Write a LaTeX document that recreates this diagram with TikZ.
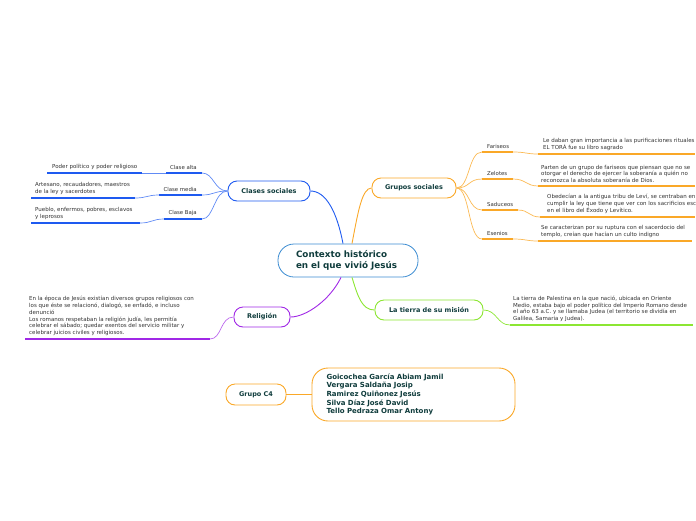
\documentclass[tikz,border=0pt]{standalone}
\usepackage{fontspec}
\setmainfont{DejaVu Sans}
\definecolor{cblue}{RGB}{30,90,240}
\definecolor{corange}{RGB}{250,168,40}
\definecolor{cpurple}{RGB}{160,40,230}
\definecolor{cgreen}{RGB}{140,230,50}
\definecolor{ccenter}{RGB}{60,140,210}
\definecolor{ctext}{RGB}{15,60,60}
\definecolor{cgray}{RGB}{50,50,50}
\begin{document}
\begin{tikzpicture}[x=1pt,y=-1pt,
  topic/.style={draw, fill=white, rounded corners=9pt, line width=0.9pt, minimum height=20pt, text=ctext, font=\bfseries\fontsize{6.5}{7.5}\selectfont},
  sub/.style={inner sep=0pt, text=cgray, font=\fontsize{5.4}{6.5}\selectfont},
  leaf/.style={inner sep=0pt, align=left, text=cgray, font=\fontsize{5.5}{6.8}\selectfont},
  uline/.style={line width=1.4pt},
  conn/.style={line width=0.7pt}]
\useasboundingbox (0,0) rectangle (696,520);

% central
\node[draw=ccenter, fill=white, rounded corners=16pt, line width=0.8pt, minimum width=140pt, minimum height=33pt, align=left, text width=104pt, text=ctext, font=\bfseries\fontsize{8.8}{10.5}\selectfont] (c) at (348,260.5) {Contexto histórico\\en el que vivió Jesús};

% main topics
\node[topic, draw=cblue, minimum width=82pt] (cs) at (269,191) {Clases sociales};
\node[topic, draw=corange, minimum width=84pt] (gs) at (414,188) {Grupos sociales};
\node[topic, draw=cpurple, minimum width=56pt] (rel) at (262,317) {Religión};
\node[topic, draw=cgreen, minimum width=108pt] (ti) at (429,310) {La tierra de su misión};
\node[topic, draw=corange, minimum width=60pt, minimum height=21pt] (g4) at (256,394.5) {Grupo C4};
\node[draw=corange, fill=white, rounded corners=16pt, line width=0.9pt, minimum width=203pt, minimum height=53pt, align=left, text=ctext, font=\bfseries\fontsize{7}{8.6}\selectfont, text width=174pt] (names) at (413.5,394.5) {Goicochea García Abiam Jamil\\Vergara Saldaña Josip\\Ramirez Quiñonez Jesús\\Silva Díaz José David\\Tello Pedraza Omar Antony};

% main connectors
\draw[conn, cblue, line width=0.9pt] ([xshift=-5pt]c.north) .. controls (337,212) and (326,191) .. (cs.east);
\draw[conn, corange, line width=0.9pt] ([xshift=4pt]c.north) .. controls (358,212) and (362,188) .. (gs.west);
\draw[conn, cpurple, line width=0.9pt] ([xshift=-7pt]c.south) .. controls (330,300) and (306,317) .. (rel.east);
\draw[conn, cgreen, line width=0.9pt] ([xshift=4pt]c.south) .. controls (358,297) and (362,310) .. (ti.west);
\draw[conn, corange, line width=0.9pt] (g4.east) -- (names.west);

% ---------- Clases sociales ----------
\coordinate (caL) at (166,173); \coordinate (caR) at (202,173);
\coordinate (cmL) at (159,195); \coordinate (cmR) at (202,195);
\coordinate (cbL) at (164,219); \coordinate (cbR) at (202,219);
\coordinate (paL) at (47,173); \coordinate (paR) at (142,173);
\coordinate (pmL) at (31,198); \coordinate (pmR) at (135,198);
\coordinate (pbL) at (31,223); \coordinate (pbR) at (140,223);
\foreach \a/\b in {caL/caR,cmL/cmR,cbL/cbR,paL/paR,pmL/pmR,pbL/pbR}
  \draw[uline, cblue] (\a) -- (\b);
\draw[conn, cblue!70] (cs.west) .. controls (214,191) and (214,173) .. (caR);
\draw[conn, cblue!70] (cs.west) .. controls (214,191) and (214,195) .. (cmR);
\draw[conn, cblue!70] (cs.west) .. controls (214,191) and (214,219) .. (cbR);
\draw[conn, cblue!70] (caL) -- (paR);
\draw[conn, cblue!70] (cmL) .. controls (147,195) and (147,198) .. (pmR);
\draw[conn, cblue!70] (cbL) .. controls (152,219) and (152,223) .. (pbR);
\node[sub, anchor=south east] (ta) at (197,170) {Clase alta};
\node[sub, anchor=south east] (tm) at (197,192) {Clase media};
\node[sub, anchor=south east] (tb) at (197,216) {Clase Baja};
\node[leaf, anchor=south west] (la) at (52,170) {Poder político y poder religioso};
\node[leaf, anchor=south west] (lm) at (35,195) {Artesano, recaudadores, maestros\\de la ley y sacerdotes};
\node[leaf, anchor=south west] (lb) at (35,220) {Pueblo, enfermos, pobres, esclavos\\y leprosos};

% ---------- Grupos sociales ----------
\coordinate (faL) at (482,152); \coordinate (faR) at (513,152);
\coordinate (zeL) at (482,179); \coordinate (zeR) at (513,179);
\coordinate (saL) at (482,210); \coordinate (saR) at (518,210);
\coordinate (esL) at (482,239); \coordinate (esR) at (513,239);
\coordinate (lfL) at (538,154); \coordinate (lfR) at (695,154);
\coordinate (lzL) at (538,186); \coordinate (lzR) at (695,186);
\coordinate (lsL) at (540,217); \coordinate (lsR) at (695,217);
\coordinate (leL) at (538,241); \coordinate (leR) at (692,241);
\foreach \a/\b in {faL/faR,zeL/zeR,saL/saR,esL/esR,lfL/lfR,lzL/lzR,lsL/lsR,leL/leR}
  \draw[uline, corange] (\a) -- (\b);
\draw[conn, corange!80] (gs.east) .. controls (470,188) and (468,152) .. (faL);
\draw[conn, corange!80] (gs.east) .. controls (470,188) and (468,179) .. (zeL);
\draw[conn, corange!80] (gs.east) .. controls (470,188) and (468,210) .. (saL);
\draw[conn, corange!80] (gs.east) .. controls (470,188) and (468,239) .. (esL);
\draw[conn, corange!80] (faR) .. controls (526,152) and (526,154) .. (lfL);
\draw[conn, corange!80] (zeR) .. controls (526,179) and (526,186) .. (lzL);
\draw[conn, corange!80] (saR) .. controls (529,210) and (529,217) .. (lsL);
\draw[conn, corange!80] (esR) .. controls (526,239) and (526,241) .. (leL);
\node[sub, anchor=south west] (tf) at (487,149) {Fariseos};
\node[sub, anchor=south west] (tz) at (487,176) {Zelotes};
\node[sub, anchor=south west] (ts) at (487,207) {Saduceos};
\node[sub, anchor=south west] (te) at (487,236) {Esenios};
\node[leaf, anchor=south west] (lf) at (543,151) {Le daban gran importancia a las purificaciones rituales\\EL TORÁ fue su libro sagrado};
\node[leaf, anchor=south west] (lz) at (541,183) {Parten de un grupo de fariseos que piensan que no se\\otorgar el derecho de ejercer la soberanía a quién no\\reconozca la absoluta soberanía de Dios.};
\node[leaf, anchor=south west] (ls) at (547,213.5) {Obedecían a la antigua tribu de Leví, se centraban en\\cumplir la ley que tiene que ver con los sacrificios esc\\en el libro del Éxodo y Levítico.};
\node[leaf, anchor=south west] (le) at (541,238) {Se caracterizan por su ruptura con el sacerdocio del\\templo, creían que hacían un culto indigno};

% ---------- Religión ----------
\coordinate (rL) at (25,339); \coordinate (rR) at (210,339);
\draw[uline, cpurple] (rL) -- (rR);
\draw[conn, cpurple!70] (rel.west) .. controls (220,317) and (222,339) .. (rR);
\node[leaf, anchor=south west] (lr) at (29,336) {En la época de Jesús existían diversos grupos religiosos con\\los que éste se relacionó, dialogó, se enfadó, e incluso\\denunció\\Los romanos respetaban la religión judía, les permitía\\celebrar el sábado; quedar exentos del servicio militar y\\celebrar juicios civiles y religiosos.};

% ---------- Tierra ----------
\coordinate (tL) at (510,325); \coordinate (tR) at (693,325);
\draw[uline, cgreen] (tL) -- (tR);
\draw[conn, cgreen] (ti.east) .. controls (497,310) and (497,325) .. (tL);
\node[leaf, anchor=south west] (lt) at (513,322) {La tierra de Palestina en la que nació, ubicada en Oriente\\Medio, estaba bajo el poder político del Imperio Romano desde\\el año 63 a.C. y se llamaba Judea (el territorio se dividía en\\Galilea, Samaria y Judea).};
\end{tikzpicture}
\end{document}
